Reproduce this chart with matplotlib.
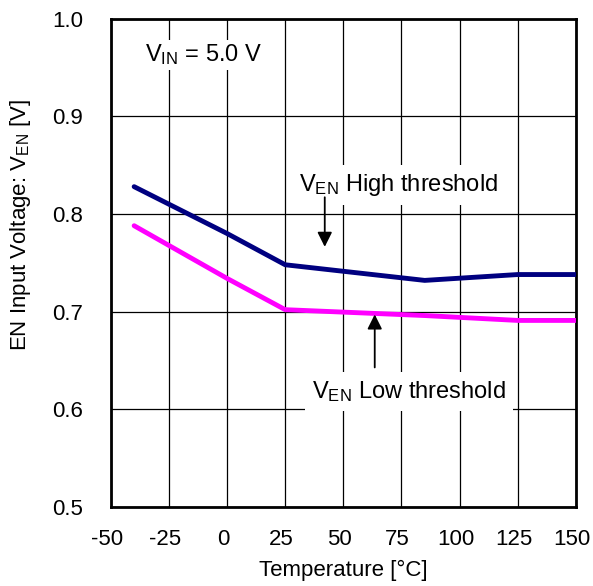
import matplotlib
matplotlib.use('Agg')
import matplotlib.pyplot as plt
from matplotlib.transforms import ScaledTranslation

plt.rcParams['font.family'] = ['Liberation Sans', 'DejaVu Sans']
plt.rcParams['mathtext.fontset'] = 'custom'
plt.rcParams['mathtext.rm'] = 'Liberation Sans'
plt.rcParams['mathtext.it'] = 'Liberation Sans'
plt.rcParams['axes.unicode_minus'] = False

# data
temp = [-40, 0, 25, 85, 125, 150]
v_high = [0.828, 0.780, 0.748, 0.732, 0.738, 0.738]
v_low = [0.788, 0.734, 0.702, 0.696, 0.691, 0.691]

x_ticks = [-50, -25, 0, 25, 50, 75, 100, 125, 150]
y_ticks = [0.5, 0.6, 0.7, 0.8, 0.9, 1.0]

fig = plt.figure(figsize=(5.93, 5.86), dpi=100)
ax = fig.add_axes([0.187, 0.135, 0.784, 0.833])

ax.plot(temp, v_high, color='#000080', lw=3.5, solid_capstyle='round', zorder=3)
ax.plot(temp, v_low, color='#ff00ff', lw=3.5, solid_capstyle='round', zorder=3)

ax.set_xlim(-50, 150)
ax.set_ylim(0.5, 1.0)
ax.set_xticks(x_ticks)
ax.set_yticks(y_ticks)
ax.set_yticklabels(['%.1f' % v for v in y_ticks])
ax.tick_params(axis='x', length=0, labelsize=16, pad=16)
ax.tick_params(axis='y', length=0, labelsize=16, pad=20)
ax.grid(True, color='black', lw=0.9)
ax.set_axisbelow(True)
for s in ax.spines.values():
    s.set_linewidth(2)

# labels sit a touch left of their gridlines in the original
shift = ScaledTranslation(-4 / 100, 0, fig.dpi_scale_trans)
for lab in ax.get_xticklabels():
    lab.set_transform(lab.get_transform() + shift)

ax.set_xlabel('Temperature [°C]', fontsize=16, labelpad=7)
ax.set_ylabel(r'EN Input Voltage: V$_{\mathregular{EN}}$ [V]', fontsize=16)
ax.yaxis.set_label_coords(-0.168, 0.578)

ax.text(-10, 0.963, r'V$_{\mathregular{IN}}$ = 5.0 V', fontsize=17, ha='center', va='center',
        bbox=dict(facecolor='white', edgecolor='none', pad=2), zorder=4)
ax.text(31, 0.830, r'V$_{\mathregular{EN}}$ High threshold', fontsize=17, ha='left', va='center',
        bbox=dict(facecolor='white', edgecolor='none', pad=5), zorder=4)
ax.text(36.5, 0.618, r'V$_{\mathregular{EN}}$ Low threshold', fontsize=17, ha='left', va='center',
        bbox=dict(facecolor='white', edgecolor='none', pad=5), zorder=4)

ax.annotate('', xy=(42, 0.7635), xytext=(42, 0.82),
            arrowprops=dict(arrowstyle='-|>', color='black', lw=1.3, mutation_scale=22), zorder=5)
ax.annotate('', xy=(63.5, 0.7), xytext=(63.5, 0.64),
            arrowprops=dict(arrowstyle='-|>', color='black', lw=1.3, mutation_scale=22), zorder=5)

fig.savefig('out.png', dpi=100)
